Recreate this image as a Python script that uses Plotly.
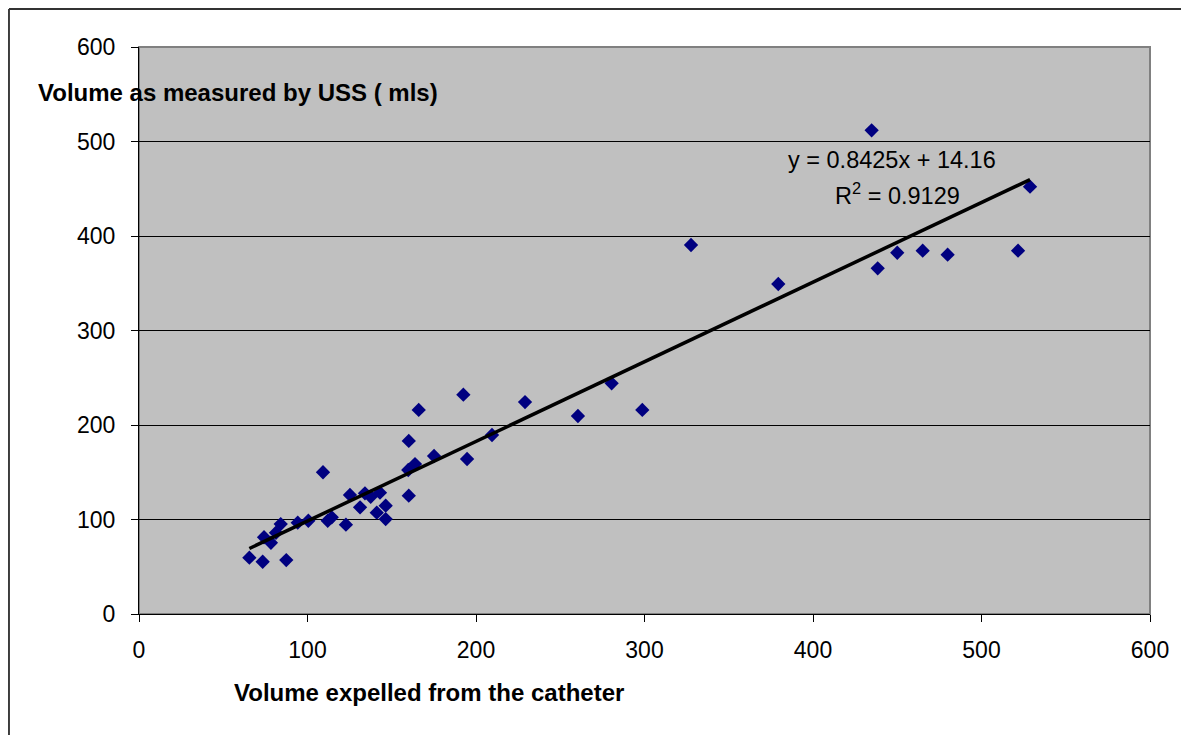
import plotly.graph_objects as go

# Data
catheter_volume = [65.5, 73.4, 87.4, 74.2, 78.3, 81.3, 84.1, 94.2, 100.5, 109.2,
                   112.0, 114.4, 122.8, 125.2, 131.2, 134.1, 137.5, 143.0, 141.1, 146.4,
                   146.4, 160.1, 160.1, 159.8, 163.8, 166.0, 175.1, 192.5, 194.7, 209.5,
                   229.1, 280.5, 260.5, 298.7, 327.6, 379.4, 434.8, 438.4, 450.0, 465.1,
                   479.9, 521.7, 528.8]
uss_volume = [59.6, 55.3, 57.1, 81.2, 75.4, 86.0, 95.2, 96.6, 98.7, 150.0,
              98.7, 102.3, 94.5, 125.9, 112.9, 127.7, 124.1, 128.4, 107.2, 114.6,
              100.5, 183.1, 125.2, 152.4, 158.7, 215.9, 167.2, 232.1, 164.0, 189.4,
              224.3, 244.1, 209.5, 215.9, 390.5, 349.2, 511.8, 365.8, 382.3, 384.5,
              380.2, 384.5, 452.2]

slope = 0.8425
intercept = 14.16
r_squared = 0.9129

x_ticks = [0, 100, 200, 300, 400, 500, 600]
y_ticks = [0, 100, 200, 300, 400, 500, 600]

x_title = "Volume expelled from the catheter"
y_title = "Volume as measured by USS ( mls)"

font_family = "Liberation Sans, Arial, sans-serif"

fig = go.Figure()

fig.add_trace(go.Scatter(
    x=catheter_volume, y=uss_volume, mode="markers",
    marker=dict(symbol="diamond", size=11, color="#000080",
                line=dict(width=0)),
    showlegend=False, cliponaxis=False))

x_min, x_max = min(catheter_volume), max(catheter_volume)
fig.add_trace(go.Scatter(
    x=[x_min, x_max],
    y=[slope * x_min + intercept, slope * x_max + intercept],
    mode="lines", line=dict(color="black", width=3.5),
    showlegend=False))

# The page body adds an 8px offset, so margins are shifted accordingly
fig.update_layout(
    width=1189, height=735,
    margin=dict(l=131, r=47, t=39, b=129),
    paper_bgcolor="white",
    plot_bgcolor="#C0C0C0",
    font=dict(family=font_family, size=24, color="black"),
    showlegend=False,
)

fig.update_xaxes(
    range=[0, 600], tickvals=x_ticks, ticktext=[str(v) for v in x_ticks],
    showgrid=False, zeroline=False,
    showline=True, linecolor="black", linewidth=1,
    ticks="outside", ticklen=7, tickcolor="black",
    tickfont=dict(size=23), ticklabelstandoff=8,
)
fig.update_yaxes(
    range=[0, 600], tickvals=y_ticks, ticktext=[str(v) for v in y_ticks],
    showgrid=True, gridcolor="black", gridwidth=1,
    zeroline=False,
    showline=True, linecolor="black", linewidth=1,
    ticks="outside", ticklen=7, tickcolor="black",
    tickfont=dict(size=23), ticklabelstandoff=11,
)

# plot area border (grey top/right)
fig.add_shape(type="rect", xref="paper", yref="paper", x0=0, y0=0, x1=1, y1=1,
              line=dict(color="#808080", width=2), layer="below")
# outer chart border (left and top)
fig.add_shape(type="line", xref="paper", yref="paper",
              x0=-0.1286, x1=-0.1286, y0=-0.25, y1=1.067,
              line=dict(color="black", width=1.5))
fig.add_shape(type="line", xref="paper", yref="paper",
              x0=-0.1286, x1=1.1, y0=1.067, y1=1.067,
              line=dict(color="#333333", width=2))

fig.add_annotation(xref="paper", yref="paper", x=-0.1019, y=0.9206,
                   xanchor="left", yanchor="middle", showarrow=False,
                   text="<b>" + y_title + "</b>", font=dict(size=24))
fig.add_annotation(xref="paper", yref="paper", x=0.2873, y=-0.1376,
                   xanchor="center", yanchor="middle", showarrow=False,
                   text="<b>" + x_title + "</b>", font=dict(size=24))

fig.add_annotation(xref="x", yref="y", x=447, y=480,
                   xanchor="center", yanchor="middle", showarrow=False,
                   text=f"y = {slope}x + {intercept}", font=dict(size=23.5))
fig.add_annotation(xref="x", yref="y", x=450, y=444,
                   xanchor="center", yanchor="middle", showarrow=False,
                   text=f"R<sup>2</sup> = {r_squared}", font=dict(size=23.5))

fig.write_html("out.html")
